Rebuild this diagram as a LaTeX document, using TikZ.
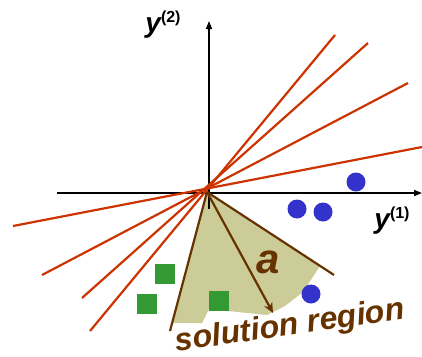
\documentclass[tikz,border=0pt]{standalone}
\usepackage{fontspec}
\setmainfont{Liberation Sans}
\usetikzlibrary{arrows.meta}
\definecolor{sepred}{HTML}{CC3300}
\definecolor{solbrown}{HTML}{663300}
\definecolor{solfill}{HTML}{CCCC99}
\definecolor{ptgreen}{HTML}{339933}
\definecolor{ptblue}{HTML}{3333CC}
\tikzset{
  axis/.style={line width=1.5pt,-{Triangle[length=8pt,width=6pt]}},
  sepline/.style={line width=2.2pt,sepred},
  bound/.style={line width=2.2pt,solbrown},
  vec/.style={line width=2.2pt,solbrown,-{Stealth[length=10pt,width=9pt,inset=3pt]}},
  sq/.style={fill=ptgreen,minimum size=20pt,inner sep=0pt},
  dot/.style={circle,fill=ptblue,minimum size=19pt,inner sep=0pt},
  lab/.style={font=\fontsize{28}{28}\selectfont\bfseries},
}
\newcommand{\supr}[1]{\raisebox{10pt}{\fontsize{16}{16}\selectfont\bfseries(#1)}}
\begin{document}
\begin{tikzpicture}[x=1pt,y=-1pt]
  \useasboundingbox (0,0) rectangle (422,356);
  \coordinate (o) at (209,193);
  \coordinate (c) at (205,189);
  \coordinate (base) at (207,192);
  % solution region
  \fill[solfill] (base) -- (173,323) -- (202,323) -- (209,309) -- (267,315)
    -- (285,306) -- (303,292) -- (320,266) -- cycle;
  % axes
  \draw[axis] (57,193) -- (422,193);
  \draw[axis] (o) ++(0,16) -- (209,21);
  % separating lines
  \foreach \ax/\ay/\bx/\by in {335/35/90/331, 368/43/82/298, 408/83/42/275, 422/147/13/226}
    \draw[sepline] (\ax,\ay) -- (\bx,\by);
  % limits of the region and the vector
  \coordinate (lend) at (170,331);
  \coordinate (rend) at (334,275);
  \coordinate (tip) at (273,313);
  \draw[bound] (base) -- (lend);
  \draw[bound] (base) -- (rend);
  \draw[vec] (base) -- (tip);
  % samples
  \node[sq] (s1) at (165,274) {};
  \node[sq] (s2) at (147,304) {};
  \node[sq] (s3) at (219,301) {};
  \node[dot] (d1) at (356,182) {};
  \node[dot] (d2) at (297,209) {};
  \node[dot] (d3) at (323,212) {};
  \node[dot] (d4) at (311,294) {};
  % labels
  \node[lab] (y2) at (163,25) {\itshape y\upshape\supr{2}};
  \node[lab] (y1) at (392,221) {\itshape y\upshape\supr{1}};
  \node[font=\fontsize{42}{42}\selectfont\bfseries\itshape,solbrown] (alab) at (268,262) {a};
  \node[font=\fontsize{32}{32}\selectfont\bfseries\itshape,solbrown,rotate=8] (sol) at (290,327) {solution region};
\end{tikzpicture}
\end{document}
